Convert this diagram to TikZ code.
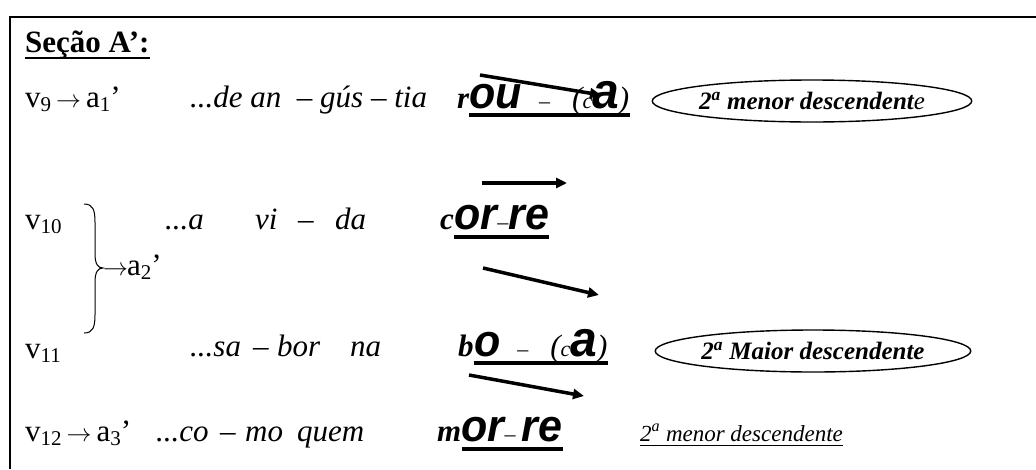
\documentclass[tikz,border=0pt]{standalone}
\usepackage{fontspec}
\setmainfont{Liberation Serif}
\newfontfamily\syllfont{Liberation Sans}
\usetikzlibrary{arrows.meta,shapes.geometric}
\newcommand\bigsyl[1]{\scalebox{1}[1.05]{\syllfont\bfseries\itshape\fontsize{43}{43}\selectfont #1}}
\newcommand\bigsyla[1]{\scalebox{1}[1.05]{\syllfont\bfseries\itshape\fontsize{48}{48}\selectfont #1}}
\newcommand\lowsub[1]{\raisebox{-0.3ex}{\fontsize{21}{21}\selectfont #1}}
\newcommand\smalldash{{\fontsize{22}{22}\selectfont\upshape –}}
\newcommand\smallc{{\fontsize{22}{22}\selectfont\itshape c}}
\newcommand\ordsup{\textsuperscript{a}}
\newcommand\longarr{\hspace{5pt}$\rightarrow$\hspace{5pt}}
\begin{document}
\begin{tikzpicture}[x=1pt,y=-1pt,
  txt/.style={anchor=base west,inner sep=0pt,font=\fontsize{31}{36}\selectfont},
  itx/.style={anchor=base west,inner sep=0pt,font=\fontsize{31}{36}\selectfont\itshape},
  bix/.style={anchor=base west,inner sep=0pt,font=\fontsize{31}{36}\selectfont\bfseries\itshape},
  uline/.style={line width=3.5pt},
  melody/.style={line width=3.5pt,-{Triangle[length=11pt,width=10pt]}},
  ellbox/.style={draw,ellipse,line width=1.4pt,inner sep=0pt,minimum width=261pt,minimum height=42pt,
     font=\fontsize{25}{30}\selectfont\bfseries\itshape}
]
\useasboundingbox (0,0) rectangle (1036,469);
% frame
\draw[line width=2.6pt] (10,469) -- (10,17) -- (1036,17);

% title
\node[txt,font=\fontsize{31}{36}\selectfont\bfseries] (title) at (25,52) {Seção A’:};
\draw[line width=2.4pt] ([yshift=-6pt]title.base west) -- ([yshift=-6pt]title.base east);

% ---- row 1
\node[txt] (v9) at (25,107) {v\lowsub{9}\longarr a\lowsub{1}’};
\node[itx] (l1) at (190,107) {...de an \ – gús – tia};
\node[bix] (r1a) at (457,108) {r};
\node[itx,anchor=base west] (r1b) at (r1a.base east) {\bigsyl{ou}\hspace{17pt}\smalldash\hspace{22pt}(\smallc\bigsyla{a})};
\draw[uline] ([yshift=-7pt]r1b.base west) -- ([yshift=-7pt]r1b.base east);
\coordinate (m1s) at (480,75);
\coordinate (m1e) at (601,95);
\draw[melody] (m1s) -- (m1e);
\node[ellbox] (e1) at (812,101) {2\ordsup{} menor descendent{\mdseries e}};

% ---- row 2
\node[txt] (v10) at (25,229) {v\lowsub{10}};
\node[itx] (w2a) at (165,229) {...a};
\node[itx] (w2b) at (255,229) {vi};
\node[itx] (w2c) at (298,229) {–};
\node[itx] (w2d) at (335,229) {da};
\node[bix] (r2a) at (440,229) {c};
\node[itx,anchor=base west] (r2b) at (r2a.base east) {\bigsyl{or}\smalldash\bigsyl{re}};
\draw[uline] ([yshift=-8pt]r2b.base west) -- ([yshift=-8pt]r2b.base east);
\coordinate (m2s) at (482,183);
\coordinate (m2e) at (567,183);
\draw[melody] (m2s) -- (m2e);

% brace and a2'
\coordinate (bt) at (84,204);
\coordinate (bm) at (103,268);
\coordinate (bb) at (84,333);
\draw[line width=1pt] (bt) .. controls (93,204) and (95,210) .. (95,222) -- (95,254)
   .. controls (95,264) and (98,268) .. (bm)
   .. controls (98,268) and (95,272) .. (95,282) -- (95,315)
   .. controls (95,327) and (93,333) .. (bb);
\node[txt] (a2) at (bm) [anchor=west,yshift=1pt] {$\rightarrow$\hspace{-1pt}a\lowsub{2}’};

% ---- row 3
\node[txt] (v11) at (25,358) {v\lowsub{11}};
\node[itx] (w3a) at (190,356) {...sa};
\node[itx] (w3b) at (253,356) {–};
\node[itx] (w3c) at (277,356) {bor};
\node[itx] (w3d) at (350,356) {na};
\node[bix] (r3a) at (458,356) {b};
\node[itx,anchor=base west] (r3b) at (r3a.base east) {\bigsyl{o}\hspace{17pt}\smalldash\hspace{22pt}(\smallc\bigsyla{a})};
\draw[uline] ([yshift=-7pt]r3b.base west) -- ([yshift=-7pt]r3b.base east);
\coordinate (m3s) at (483,268);
\coordinate (m3e) at (599,295);
\draw[melody] (m3s) -- (m3e);
\node[ellbox] (e2) at (813,351) {2\ordsup{} Maior descendente};

% ---- row 4
\node[txt] (v12) at (25,441) {v\lowsub{12}\longarr a\lowsub{3}’};
\node[itx] (w4a) at (156,441) {...co};
\node[itx] (w4b) at (220,441) {–};
\node[itx] (w4c) at (245,441) {mo};
\node[itx] (w4d) at (297,441) {quem};
\node[bix] (r4a) at (437,441) {m};
\node[itx,anchor=base west] (r4b) at (r4a.base east) {\bigsyl{or}\smalldash\hspace{6pt}\bigsyl{re}};
\draw[uline] ([yshift=-8pt]r4b.base west) -- ([yshift=-8pt]r4b.base east);
\coordinate (m4s) at (469,375);
\coordinate (m4e) at (584,396);
\draw[melody] (m4s) -- (m4e);
\node[itx,font=\fontsize{23}{28}\selectfont\itshape] (lab4) at (640,441) {2\ordsup{} menor descendente};
\draw[line width=1pt] ([yshift=-4pt]lab4.base west) -- ([yshift=-4pt]lab4.base east);
\end{tikzpicture}
\end{document}
